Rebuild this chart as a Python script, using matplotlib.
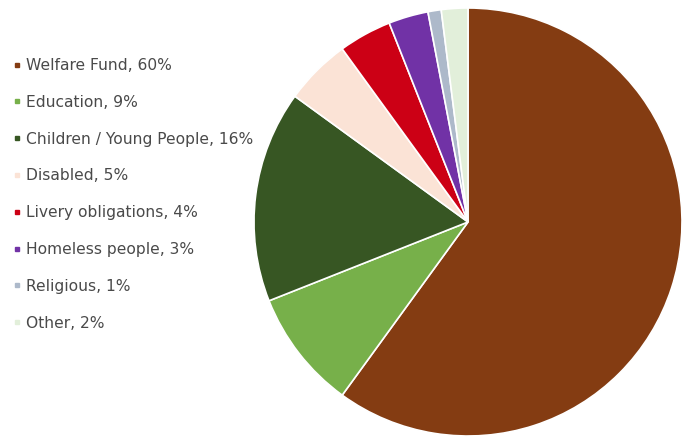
import matplotlib.pyplot as plt
from matplotlib.lines import Line2D

plt.rcParams['font.family'] = ['DejaVu Sans']

labels = ["Welfare Fund", "Education", "Children / Young People", "Disabled",
          "Livery obligations", "Homeless people", "Religious", "Other"]
shares = [60, 9, 16, 5, 4, 3, 1, 2]
colors = ["#843C12", "#77B04A", "#375623", "#FBE3D6",
          "#CC0015", "#7132A6", "#ADB9CA", "#E2EFDA"]

fig = plt.figure(figsize=(6.82, 4.43), dpi=100)
W, H = 682, 443
cx, cy, r = 468, 222, 214
ax = fig.add_axes([(cx - r) / W, (H - cy - r) / H, 2 * r / W, 2 * r / H])
wedges, _ = ax.pie(shares, colors=colors, startangle=90, counterclock=False,
                   wedgeprops=dict(edgecolor="white", linewidth=1.2))
ax.set_xlim(-1, 1)
ax.set_ylim(-1, 1)
ax.set_aspect("equal")

handles = [Line2D([], [], marker="s", linestyle="none", markersize=3.5,
                  markerfacecolor=c, markeredgecolor=c) for c in colors]
legend_labels = [f"{l}, {s}%" for l, s in zip(labels, shares)]
fig.legend(handles, legend_labels, loc="upper left", bbox_to_anchor=(0.005, 0.89),
           frameon=False, fontsize=11.2, labelcolor="#4a4a4a", handlelength=0.5,
           handletextpad=0.35, labelspacing=1.4, borderaxespad=0.2)

fig.savefig("out.png", dpi=100)
